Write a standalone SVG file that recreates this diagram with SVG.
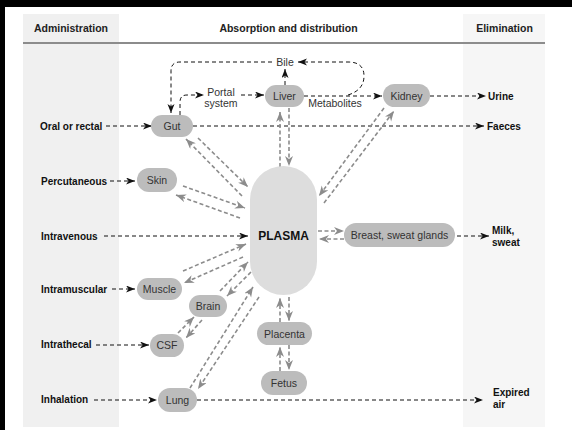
<svg xmlns="http://www.w3.org/2000/svg" width="572" height="430" viewBox="0 0 572 430">
<style>
.hdr{font-family:"Liberation Sans",Arial,sans-serif;font-size:10.5px;font-weight:bold;fill:#222;text-anchor:middle}
.lab{font-family:"Liberation Sans",Arial,sans-serif;font-size:10px;font-weight:bold;fill:#111}
.reg{font-family:"Liberation Sans",Arial,sans-serif;font-size:10.5px;fill:#333;text-anchor:middle}
.node rect{fill:#bcbcbc}
.node text{font-family:"Liberation Sans",Arial,sans-serif;font-size:10.5px;fill:#333;text-anchor:middle}
.k{fill:none;stroke:#111;stroke-width:1;stroke-dasharray:4 3;marker-end:url(#ak)}
.g{fill:none;stroke:#8c8c8c;stroke-width:1.6;stroke-dasharray:4 2.5;marker-end:url(#ag)}
</style>
<defs>
<marker id="ak" markerUnits="userSpaceOnUse" markerWidth="10" markerHeight="8" refX="9" refY="3.5" orient="auto">
<path d="M0,0 L9,3.5 L0,7 L2.5,3.5 z" fill="#111"/>
</marker>
<marker id="ag" markerUnits="userSpaceOnUse" markerWidth="12" markerHeight="10" refX="10" refY="4" orient="auto">
<path d="M0,0 L10,4 L0,8 L3,4 z" fill="#8c8c8c"/>
</marker>
</defs>
<rect x="0" y="0" width="572" height="430" fill="#fff"/>
<rect x="23" y="14" width="96" height="413" fill="#f0f0f0"/>
<rect x="463" y="14" width="82" height="413" fill="#f6f6f6"/>
<rect x="0" y="0" width="572" height="7" fill="#000"/>
<rect x="0" y="0" width="5" height="430" fill="#000"/>
<line x1="23" y1="43" x2="545" y2="43" stroke="#8c8c8c" stroke-width="2"/>
<text class="hdr" x="71" y="32">Administration</text>
<text class="hdr" x="288.5" y="32">Absorption and distribution</text>
<text class="hdr" x="504.5" y="32">Elimination</text>

<g id="connectors">
<path class="k" d="M106,126 H152"/>
<path class="k" d="M180,115 V102 Q180,95 187,95 H204"/>
<path class="k" d="M241,95 H264"/>
<path class="k" d="M285,85 V69"/>
<path class="k" d="M272,62 H180 Q171,62 171,71 V113"/>
<path class="k" d="M304,96 H382"/>
<path class="k" d="M348,95 Q364,90 364,76 Q364,62 348,62 H298"/>
<path class="k" d="M430,96 H486"/>
<path class="k" d="M193,126 H484"/>
<path class="k" d="M110,181 H135"/>
<path class="k" d="M104,236 H248"/>
<path class="k" d="M457,236 H489"/>
<path class="k" d="M112,289 H135"/>
<path class="k" d="M96,345 H149"/>
<path class="k" d="M94,400 H157"/>
<path class="k" d="M197,400 H483"/>

<path class="g" d="M280,167 V112"/>
<path class="g" d="M289,108 V166"/>
<path class="g" d="M198,138 L248,187"/>
<path class="g" d="M242,196 L186,139"/>
<path class="g" d="M183,186 L245,208"/>
<path class="g" d="M240,218 L176,195"/>
<path class="g" d="M384,108 L319,196"/>
<path class="g" d="M324,203 L394,111"/>
<path class="g" d="M318,231 H344"/>
<path class="g" d="M344,239 H319"/>
<path class="g" d="M183,271 L246,244"/>
<path class="g" d="M243,257 L184,283"/>
<path class="g" d="M220,291 L248,262"/>
<path class="g" d="M251,272 L227,296"/>
<path class="g" d="M178,333 L194,317"/>
<path class="g" d="M202,320 L186,338"/>
<path class="g" d="M190,388 L253,287"/>
<path class="g" d="M259,297 L198,389"/>
<path class="g" d="M289,297 V321"/>
<path class="g" d="M280,322 V298"/>
<path class="g" d="M289,345 V370"/>
<path class="g" d="M280,371 V347"/>
</g>

<g id="plasma" class="node"><rect x="250" y="166" width="67" height="129" rx="33.5" style="fill:#dddddd"/><text x="283.5" y="240" style="font-weight:bold;font-size:12px;fill:#111">PLASMA</text></g>
<g id="gut" class="node"><rect x="151" y="115" width="42" height="22" rx="11"/><text x="172" y="130">Gut</text></g>
<g id="liver" class="node"><rect x="265" y="85" width="39" height="22" rx="11"/><text x="284.5" y="100">Liver</text></g>
<g id="kidney" class="node"><rect x="383" y="84" width="47" height="23" rx="11.5"/><text x="406.5" y="99.5">Kidney</text></g>
<g id="skin" class="node"><rect x="137" y="168" width="40" height="24" rx="12"/><text x="157" y="184">Skin</text></g>
<g id="breast" class="node"><rect x="344" y="223" width="111" height="24" rx="12"/><text x="399.5" y="239">Breast, sweat glands</text></g>
<g id="muscle" class="node"><rect x="137" y="278" width="45" height="22" rx="11"/><text x="159.5" y="293">Muscle</text></g>
<g id="brain" class="node"><rect x="189" y="295" width="38" height="22" rx="11"/><text x="208" y="310">Brain</text></g>
<g id="csf" class="node"><rect x="150" y="334" width="34" height="23" rx="11.5"/><text x="167" y="349">CSF</text></g>
<g id="lung" class="node"><rect x="158" y="388" width="39" height="24" rx="12"/><text x="177.5" y="404">Lung</text></g>
<g id="placenta" class="node"><rect x="257" y="322" width="55" height="23" rx="11.5"/><text x="284.5" y="337.5">Placenta</text></g>
<g id="fetus" class="node"><rect x="261" y="371" width="46" height="24" rx="12"/><text x="284" y="387">Fetus</text></g>

<g id="labels">
<text class="reg" x="285" y="65.5">Bile</text>
<text class="reg" x="221" y="96">Portal</text>
<text class="reg" x="221" y="107">system</text>
<text class="reg" x="335" y="107">Metabolites</text>
<text class="lab" x="40" y="130">Oral or rectal</text>
<text class="lab" x="41" y="185">Percutaneous</text>
<text class="lab" x="41" y="240">Intravenous</text>
<text class="lab" x="41" y="293">Intramuscular</text>
<text class="lab" x="41" y="348">Intrathecal</text>
<text class="lab" x="41" y="403">Inhalation</text>
<text class="lab" x="488" y="100">Urine</text>
<text class="lab" x="487" y="130">Faeces</text>
<text class="lab" x="492" y="234">Milk,</text>
<text class="lab" x="492" y="246">sweat</text>
<text class="lab" x="493" y="396">Expired</text>
<text class="lab" x="493" y="408">air</text>
</g>
</svg>
